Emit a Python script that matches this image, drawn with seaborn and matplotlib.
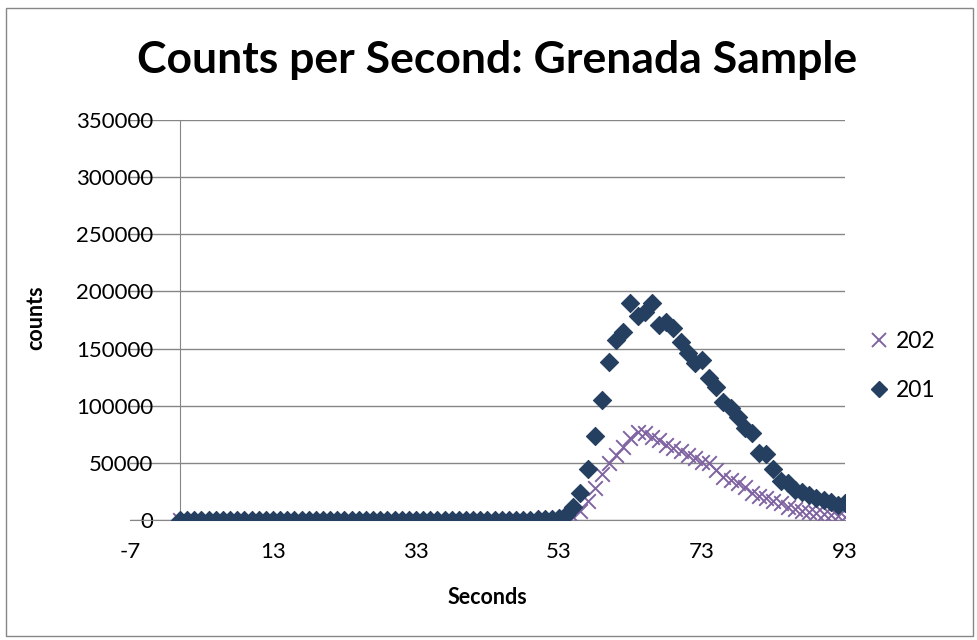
import numpy as np
import pandas as pd
import matplotlib
matplotlib.use("Agg")
import matplotlib.pyplot as plt
import seaborn as sns
from matplotlib.lines import Line2D
from matplotlib.patches import Rectangle

# ---- data ----
seconds = list(range(0, 94))

counts_201 = [310, 280, 350, 300, 290, 320, 340, 300, 310, 330,
              290, 300, 350, 380, 320, 300, 310, 290, 340, 360,
              330, 310, 300, 320, 350, 370, 340, 330, 310, 300,
              320, 340, 360, 380, 350, 330, 400, 420, 380, 360,
              350, 370, 390, 410, 380, 360, 340, 350, 370, 400,
              450, 600,
              900, 1800, 4500, 11000, 24000, 45000, 73500, 105000, 138500, 157500,
              164800, 189600, 178500, 182000, 189600, 170600, 173500, 168000, 156000, 146000,
              137000, 140000, 124000, 116700, 103500, 97700, 90400, 80200, 75800, 58300,
              57500, 44500, 34000, 32000, 26500, 24500, 22000, 19500, 17500, 16000,
              13500, 15200]

counts_202 = [120, 110, 130, 120, 115, 125, 130, 120, 118, 126,
              112, 120, 135, 140, 128, 120, 122, 115, 130, 138,
              128, 120, 118, 125, 132, 140, 130, 126, 120, 118,
              124, 130, 138, 145, 135, 128, 150, 158, 145, 138,
              135, 142, 148, 155, 145, 140, 132, 135, 142, 150,
              165, 200, 260, 380,
              800, 2500, 8000, 17000, 28000, 40000, 50000, 57000, 64000, 71500,
              77000, 76000, 73000, 70000, 66000, 63000, 60000, 57000, 54000, 51000,
              49500, 44000, 38000, 35000, 32000, 29000, 24000, 21000, 19000, 17000,
              14500, 11700, 9500, 8000, 7000, 5800, 5000, 4400, 3500, 2500]

x_ticks = [-7, 13, 33, 53, 73, 93]
y_ticks = [0, 50000, 100000, 150000, 200000, 250000, 300000, 350000]

title = "Counts per Second: Grenada Sample"
x_label = "Seconds"
y_label = "counts"

navy = "#243F60"
purple = "#8064A2"
grid_col = "#868686"

df201 = pd.DataFrame({"Seconds": seconds, "counts": counts_201})
df202 = pd.DataFrame({"Seconds": seconds, "counts": counts_202})

sns.set_style("white")
plt.rcParams["font.family"] = ["Lato", "DejaVu Sans"]
plt.rcParams["text.color"] = "black"
plt.rcParams["xtick.labelcolor"] = "black"
plt.rcParams["ytick.labelcolor"] = "black"

W, H = 978, 640
fig = plt.figure(figsize=(W / 100, H / 100), dpi=100)
ax = fig.add_axes([130 / W, 1 - 520 / H, (845 - 130) / W, (520 - 120) / H])

sns.scatterplot(data=df202, x="Seconds", y="counts", marker="x", s=110,
                color=purple, linewidth=1.4, ax=ax, zorder=3, legend=False)
sns.scatterplot(data=df201, x="Seconds", y="counts", marker="D", s=85,
                color=navy, edgecolor=navy, linewidth=0.8, ax=ax, zorder=4,
                legend=False)

ax.set_xlim(-7, 93)
ax.set_ylim(0, 350000)
ax.set_xticks(x_ticks)
ax.set_yticks(y_ticks)
ax.set_xticklabels([str(t) for t in x_ticks])
ax.set_yticklabels([str(t) for t in y_ticks])
ax.tick_params(axis="both", labelsize=16, labelcolor="black")
for lab in ax.get_yticklabels():
    lab.set_bbox(dict(facecolor="white", edgecolor="none", pad=1.0))

ax.yaxis.grid(True, color=grid_col, linewidth=1.0, zorder=0)
ax.set_axisbelow(True)
for side in ["top", "right"]:
    ax.spines[side].set_visible(False)
ax.spines["left"].set_position(("data", 0))
ax.spines["left"].set_color(grid_col)
ax.spines["bottom"].set_color(grid_col)
ax.spines["left"].set_zorder(1)
ax.tick_params(axis="x", direction="out", length=6, color=grid_col, pad=10)
ax.tick_params(axis="y", direction="out", length=5, color=grid_col, pad=14)

ax.set_xlabel("")
ax.set_ylabel("")
fig.text(487 / W, 1 - 597 / H, x_label, fontsize=15.5, fontweight="bold",
         ha="center", va="center")
fig.text(36 / W, 1 - 318 / H, y_label, rotation=90, fontsize=15.5,
         fontweight="bold", ha="center", va="center")
fig.text(497 / W, 1 - 60 / H, title, fontsize=32, fontweight="bold",
         ha="center", va="center")

handles = [Line2D([], [], marker="x", linestyle="none", color=purple,
                  markersize=10, markeredgewidth=1.4),
           Line2D([], [], marker="D", linestyle="none", color=navy,
                  markersize=8)]
fig.legend(handles, ["202", "201"], loc="center left",
           bbox_to_anchor=(845 / W, 1 - 366 / H), frameon=False,
           fontsize=16.5, handletextpad=0.1, labelspacing=1.2,
           handlelength=1.2)

fig.patches.append(Rectangle((6 / W, 4 / H), 967 / W, 628 / H,
                             transform=fig.transFigure, fill=False,
                             edgecolor="#868686", linewidth=1.0))

fig.savefig("out.png", dpi=100)
